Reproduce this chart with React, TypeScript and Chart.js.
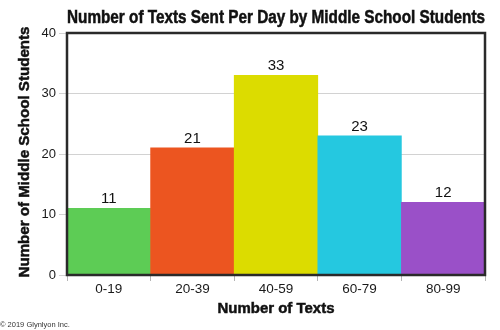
import React, { useEffect, useRef } from "react";
import { Chart, registerables } from "chart.js";

Chart.register(...registerables);

const categories = ["0-19", "20-39", "40-59", "60-79", "80-99"];
const values = [11, 21, 33, 23, 12];
const barColors = ["#5dcc55", "#ec5520", "#dcdc00", "#25c8e0", "#9a50c8"];
const yMin = 0;
const yMax = 40;
const yStep = 10;
const chartTitle = "Number of Texts Sent Per Day by Middle School Students";
const xTitle = "Number of Texts";
const yTitle = "Number of Middle School Students";
const copyright = "\u00A9 2019 Glynlyon Inc.";

const SANS = '"Liberation Sans", Arial, Helvetica, sans-serif';

function drawFitted(
  ctx: CanvasRenderingContext2D,
  text: string,
  x: number,
  y: number,
  width: number,
  font: string,
  rotate = false
) {
  ctx.save();
  ctx.font = font;
  const w = ctx.measureText(text).width;
  const sx = width / w;
  ctx.translate(x, y);
  if (rotate) ctx.rotate(-Math.PI / 2);
  ctx.scale(sx, 1);
  ctx.textAlign = "center";
  ctx.textBaseline = "alphabetic";
  ctx.lineWidth = 0.5;
  ctx.strokeStyle = ctx.fillStyle as string;
  ctx.fillText(text, 0, 0);
  ctx.strokeText(text, 0, 0);
  ctx.restore();
}

const decorPlugin = {
  id: "decor",
  afterDatasetsDraw(chart: any) {
    const { ctx, chartArea } = chart;
    const meta = chart.getDatasetMeta(0);
    ctx.save();
    ctx.font = `15px ${SANS}`;
    ctx.fillStyle = "#111";
    ctx.textAlign = "center";
    ctx.textBaseline = "alphabetic";
    meta.data.forEach((bar: any, i: number) => {
      ctx.fillText(String(values[i]), bar.x, bar.y - 5);
    });
    ctx.strokeStyle = "#2a2a2a";
    ctx.lineWidth = 2.5;
    ctx.strokeRect(
      chartArea.left,
      chartArea.top,
      chartArea.right - chartArea.left,
      chartArea.bottom - chartArea.top
    );
    ctx.restore();
  },
  afterDraw(chart: any) {
    const { ctx, chartArea } = chart;
    ctx.save();
    ctx.fillStyle = "#111";
    const cx = (chartArea.left + chartArea.right) / 2;
    const cy = (chartArea.top + chartArea.bottom) / 2;
    drawFitted(ctx, chartTitle, cx, 23, 418, `bold 17.5px ${SANS}`);
    drawFitted(ctx, xTitle, cx, 313, 117, `bold 15.5px ${SANS}`);
    drawFitted(ctx, yTitle, 29, cy - 2, 251, `bold 15.5px ${SANS}`, true);
    ctx.font = `7.5px ${SANS}`;
    ctx.fillStyle = "#333";
    ctx.textAlign = "left";
    ctx.textBaseline = "middle";
    ctx.fillText(copyright, 0, 325);
    ctx.restore();
  },
};

export default function App() {
  const canvasRef = useRef<HTMLCanvasElement | null>(null);

  useEffect(() => {
    document.body.style.margin = "0";
    const canvas = canvasRef.current;
    if (!canvas) return;
    const chart = new Chart(canvas, {
      type: "bar",
      data: {
        labels: categories,
        datasets: [
          {
            data: values,
            backgroundColor: barColors,
            borderWidth: 0,
            categoryPercentage: 1,
            barPercentage: 1,
          },
        ],
      },
      options: {
        responsive: false,
        animation: false,
        devicePixelRatio: 1,
        layout: { padding: { top: 33, right: 15, left: 0, bottom: 0 } },
        plugins: {
          legend: { display: false },
          tooltip: { enabled: false },
          title: { display: false },
        },
        scales: {
          x: {
            offset: true,
            grid: {
              display: true,
              drawOnChartArea: false,
              drawTicks: true,
              tickLength: 6,
              color: "#b5b5b5",
              offset: true,
            },
            border: { display: false },
            ticks: {
              color: "#1a1a1a",
              font: { family: SANS, size: 13.5 },
              padding: 0,
            },
            title: { display: false },
            afterFit: (s: any) => {
              s.height = 55;
            },
          },
          y: {
            min: yMin,
            max: yMax,
            ticks: {
              stepSize: yStep,
              color: "#1a1a1a",
              font: { family: SANS, size: 13 },
              padding: 3,
            },
            grid: {
              color: "#d2d2d2",
              tickLength: 8,
              lineWidth: 1,
            },
            border: { display: false },
            afterFit: (s: any) => {
              s.width = 67;
            },
          },
        },
      },
      plugins: [decorPlugin],
    } as any);
    return () => chart.destroy();
  }, []);

  return (
    <div style={{ width: 500, height: 330 }}>
      <canvas ref={canvasRef} width={500} height={330} />
    </div>
  );
}
